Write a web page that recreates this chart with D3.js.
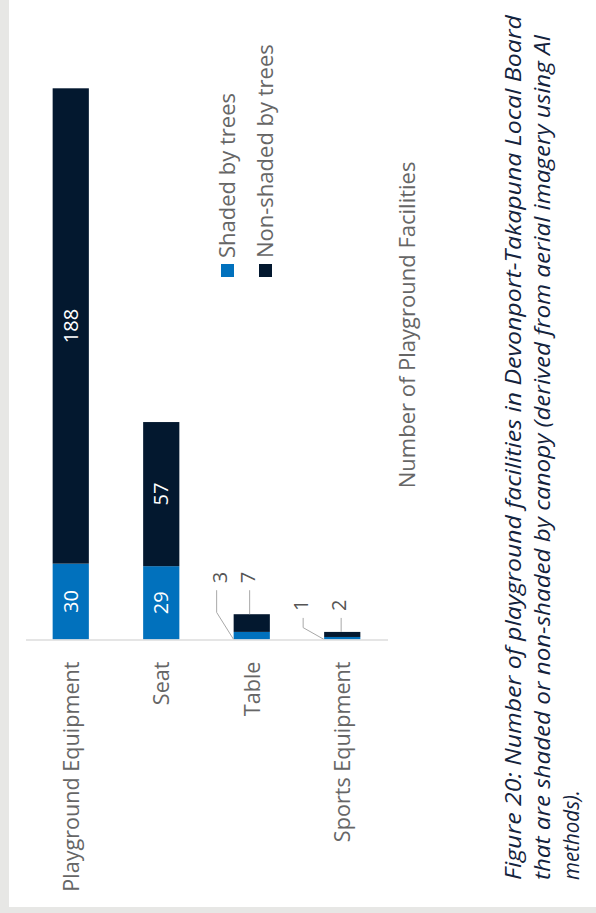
<!DOCTYPE html>
<meta charset="utf-8">
<style>
body { margin: 0; background: #fff; }
text { font-family: "Open Sans", Roboto, sans-serif; }
</style>
<body>
<script src="https://cdn.jsdelivr.net/npm/d3@7"></script>
<script>

// data
var categories = ["Playground Equipment", "Seat", "Table", "Sports Equipment"];
var shaded = [30, 29, 3, 1];
var nonShaded = [188, 57, 7, 2];
var seriesNames = ["Shaded by trees", "Non-shaded by trees"];
var axisTitle = "Number of Playground Facilities";
var captionLines = [
  "Figure 20: Number of playground facilities in Devonport-Takapuna Local Board",
  "that are shaded or non-shaded by canopy (derived from aerial imagery using AI",
  "methods)."
];

var width = 596, height = 913;
var colors = ["#0171bd", "#03182f"];
var labelFont = "'Open Sans', Roboto, sans-serif";

var svg = d3.select("body").append("svg")
    .attr("width", width)
    .attr("height", height);

// page border (grey strips left + bottom)
svg.append("rect").attr("x", 0).attr("y", 0).attr("width", width).attr("height", height).attr("fill", "#e7e7e5");
svg.append("rect").attr("x", 9).attr("y", 0).attr("width", width - 9).attr("height", 907).attr("fill", "#fff");

var rows = categories.map(function(c, i) {
  return {cat: c, shaded: shaded[i], nonShaded: nonShaded[i]};
});

var stack = d3.stack().keys(["shaded", "nonShaded"]);
var series = stack(rows);

// chart is drawn turned 90deg: categories run left->right, values run bottom->top
var x = d3.scaleBand()
    .domain(categories)
    .range([25.5, 387.5])
    .paddingInner(0.6)
    .paddingOuter(0.3);

var y = d3.scaleLinear()
    .domain([0, d3.max(rows, function(d) { return d.shaded + d.nonShaded; })])
    .range([639.5, 88.3]);

var g = svg.append("g");

g.selectAll("g.layer")
  .data(series)
  .enter().append("g")
    .attr("class", "layer")
    .attr("fill", function(d, i) { return colors[i]; })
  .selectAll("rect")
  .data(function(d) { return d; })
  .enter().append("rect")
    .attr("x", function(d) { return x(d.data.cat); })
    .attr("width", x.bandwidth())
    .attr("y", function(d) { return y(d[1]); })
    .attr("height", function(d) { return y(d[0]) - y(d[1]); });

// value labels inside the big segments
series.forEach(function(s) {
  s.forEach(function(d) {
    var h = y(d[0]) - y(d[1]);
    if (h < 30) return;
    var cx = x(d.data.cat) + x.bandwidth() / 2,
        cy = (y(d[0]) + y(d[1])) / 2;
    g.append("text")
        .attr("transform", "translate(" + cx + "," + cy + ") rotate(-90)")
        .attr("text-anchor", "middle")
        .attr("dy", "0.36em")
        .attr("fill", "#fff")
        .attr("font-size", 20)
        .text(d[1] - d[0]);
  });
});

// callouts for the tiny bars (hand placed like the original)
var callouts = {
  "Table":            {gap: 31, sx: -14, lx: -17, nx: 16},
  "Sports Equipment": {gap: 21, sx: -23, lx: -21, nx: 17}
};
var lead = g.append("g").attr("stroke", "#a8a8a8").attr("fill", "none");
rows.forEach(function(r) {
  var c = callouts[r.cat];
  if (!c) return;
  var x0 = x(r.cat),
      top = y(r.shaded + r.nonShaded),
      labY = top - c.gap;
  // shaded value: left label, bent leader to bar foot
  lead.append("path")
      .attr("d", d3.line()([[x0 + c.lx, labY + 7], [x0 + c.lx, labY + 7 + (y(0) - labY - 7) * 0.45], [x0, y(0)]]));
  // non-shaded value: straight leader to bar top
  lead.append("path")
      .attr("d", d3.line()([[x0 + c.nx, labY + 7], [x0 + c.nx, top]]));
  [[c.sx, r.shaded], [c.nx - 2, r.nonShaded]].forEach(function(p) {
    g.append("text")
        .attr("transform", "translate(" + (x0 + p[0]) + "," + labY + ") rotate(-90)")
        .attr("text-anchor", "start")
        .attr("dy", "0.36em")
        .attr("fill", "#555")
        .attr("font-size", 20)
        .text(p[1]);
  });
});

// category axis
var axis = svg.append("g")
    .attr("transform", "translate(0," + y(0) + ")")
    .call(d3.axisBottom(x).tickSize(0).tickSizeOuter(0));
axis.select(".domain").attr("stroke", "#dcdcdc").attr("stroke-width", 1.5);
axis.selectAll("text")
    .attr("transform", "rotate(-90)")
    .attr("x", -22)
    .attr("y", 0)
    .attr("dy", "0.36em")
    .attr("text-anchor", "end")
    .attr("fill", "#666")
    .attr("font-size", 21.6)
    .attr("font-family", labelFont);

// value axis title
svg.append("text")
    .attr("transform", "translate(407," + ((y.range()[0] + y.range()[1]) / 2 - 39) + ") rotate(-90)")
    .attr("text-anchor", "middle")
    .attr("dy", "0.36em")
    .attr("fill", "#666")
    .attr("font-size", 22)
    .text(axisTitle);

// legend
var legend = svg.append("g");
seriesNames.forEach(function(name, i) {
  var lx = 221 + i * 38;
  legend.append("rect")
      .attr("x", lx).attr("y", 264)
      .attr("width", 13).attr("height", 13)
      .attr("fill", colors[i]);
  legend.append("text")
      .attr("transform", "translate(" + (lx + 6.5) + ",258) rotate(-90)")
      .attr("text-anchor", "start")
      .attr("dy", "0.36em")
      .attr("fill", "#666")
      .attr("font-size", 22)
      .text(name);
});

// caption
var capLens = [865, 845, 90];
captionLines.forEach(function(line, i) {
  svg.append("text")
      .attr("transform", "translate(" + (513 + i * 29) + ",880) rotate(-90)")
      .attr("text-anchor", "start")
      .attr("dy", "0.36em")
      .attr("fill", "#14233d")
      .attr("font-size", 22.5)
      .attr("font-style", "italic")
      .attr("font-family", "Roboto, sans-serif")
      .attr("textLength", capLens[i])
      .attr("lengthAdjust", "spacingAndGlyphs")
      .text(line);
});

</script>
</body>
